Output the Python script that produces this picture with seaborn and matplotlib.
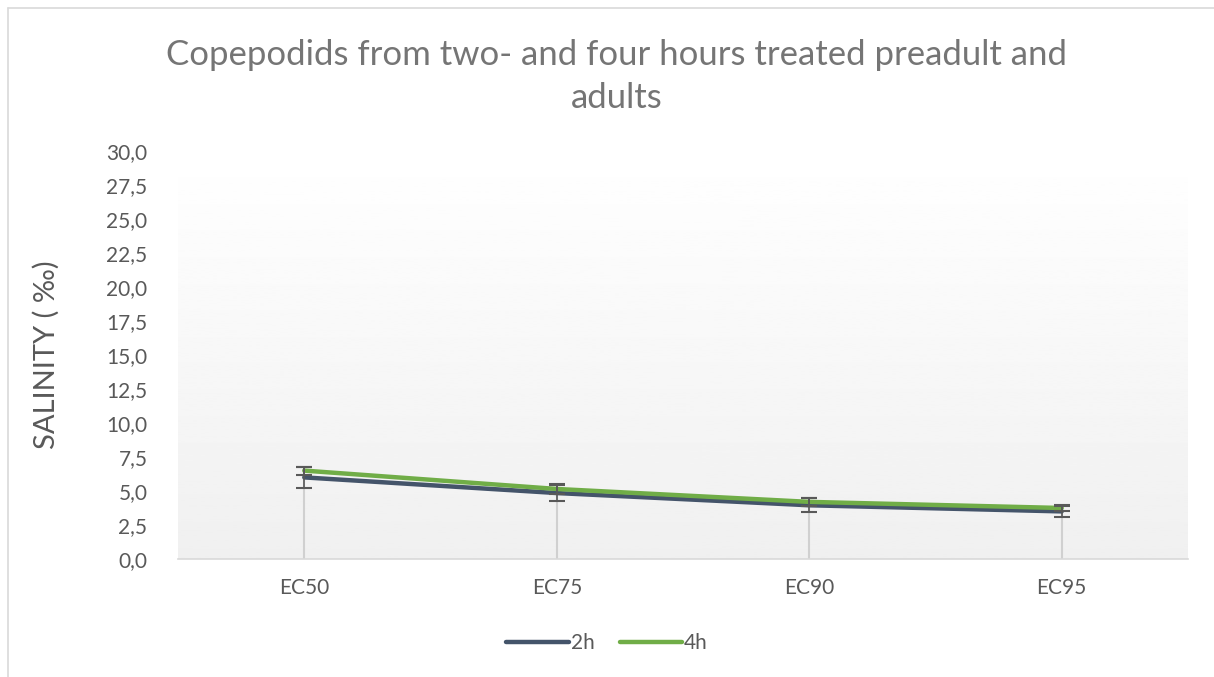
import matplotlib.pyplot as plt
import numpy as np
import pandas as pd
import seaborn as sns
from matplotlib.lines import Line2D

# Data
categories = ["EC50", "EC75", "EC90", "EC95"]
salinity_2h = [6.0, 4.85, 3.95, 3.5]
salinity_4h = [6.5, 5.15, 4.2, 3.75]
err_2h = [0.8, 0.6, 0.5, 0.4]
err_4h = [0.3, 0.35, 0.3, 0.2]
y_ticks = [0.0, 2.5, 5.0, 7.5, 10.0, 12.5, 15.0, 17.5, 20.0, 22.5, 25.0, 27.5, 30.0]

df = pd.DataFrame({
    "cat": categories * 2,
    "x": list(range(len(categories))) * 2,
    "value": salinity_2h + salinity_4h,
    "err": err_2h + err_4h,
    "series": ["2h"] * 4 + ["4h"] * 4,
})

sns.set_style("white")
plt.rcParams["font.family"] = ["Lato", "DejaVu Sans"]

colors = {"2h": "#44546a", "4h": "#70ad47"}
tick_col = "#595959"

fig = plt.figure(figsize=(12.14, 6.77), dpi=100)
ax = fig.add_axes([178 / 1214, 1 - 559 / 677, (1188 - 178) / 1214, (559 - 151) / 677])

# gradient background of plot area
grad = np.linspace(0.94, 1.0, 256).reshape(-1, 1)
ax.imshow(grad, cmap="gray", vmin=0, vmax=1, aspect="auto",
          extent=[-0.5, 3.5, 0, 30], origin="lower", zorder=0)

# drop lines
for i in range(len(categories)):
    top = max(salinity_2h[i], salinity_4h[i])
    ax.plot([i, i], [0, top], color="#d0d0d0", lw=1.5, zorder=1)

sns.lineplot(data=df, x="x", y="value", hue="series", palette=colors,
             lw=3.2, ax=ax, legend=False, zorder=3)

for s, vals, errs in [("2h", salinity_2h, err_2h), ("4h", salinity_4h, err_4h)]:
    ax.errorbar(range(len(categories)), vals, yerr=errs, fmt="none",
                ecolor=tick_col, elinewidth=1.2, capsize=6, capthick=1.5, zorder=4)

ax.set_xlim(-0.5, 3.5)
ax.set_ylim(0, 30)
ax.set_xticks(range(len(categories)))
ax.set_xticklabels(categories)
ax.set_yticks(y_ticks)
ax.set_yticklabels([f"{t:.1f}".replace(".", ",") for t in y_ticks])
ax.tick_params(axis="both", length=0, labelsize=15, colors=tick_col)
ax.tick_params(axis="x", pad=14)
ax.tick_params(axis="y", pad=22)
for side in ["top", "right", "left"]:
    ax.spines[side].set_visible(False)
ax.spines["bottom"].set_color("#d9d9d9")
ax.spines["bottom"].set_linewidth(1.2)
ax.set_xlabel("")
ax.set_ylabel("SALINITY ( ‰)", fontsize=21, color=tick_col)
ax.yaxis.set_label_coords(-118 / 1010, 0.5)

fig.text(617 / 1214, 1 - 55 / 677, "Copepodids from two- and four hours treated preadult and",
         ha="center", va="center", fontsize=25, color="#757575")
fig.text(617 / 1214, 1 - 98 / 677, "adults",
         ha="center", va="center", fontsize=25, color="#757575")

handles = [Line2D([0], [0], color=colors[k], lw=3.2, solid_capstyle="round") for k in ["2h", "4h"]]
fig.legend(handles, ["2h", "4h"], loc="center", bbox_to_anchor=(0.5, 1 - 643 / 677),
           ncol=2, frameon=False, fontsize=15, handlelength=3.0, handletextpad=0.1,
           columnspacing=1.2, labelcolor=tick_col)

# outer chart border (partly cropped)
fig.add_artist(Line2D([8 / 1214, 8 / 1214], [0, 1 - 8 / 677], color="#d9d9d9", lw=1.2))
fig.add_artist(Line2D([8 / 1214, 1], [1 - 8 / 677, 1 - 8 / 677], color="#d9d9d9", lw=1.2))

fig.savefig("out.png", dpi=100)
